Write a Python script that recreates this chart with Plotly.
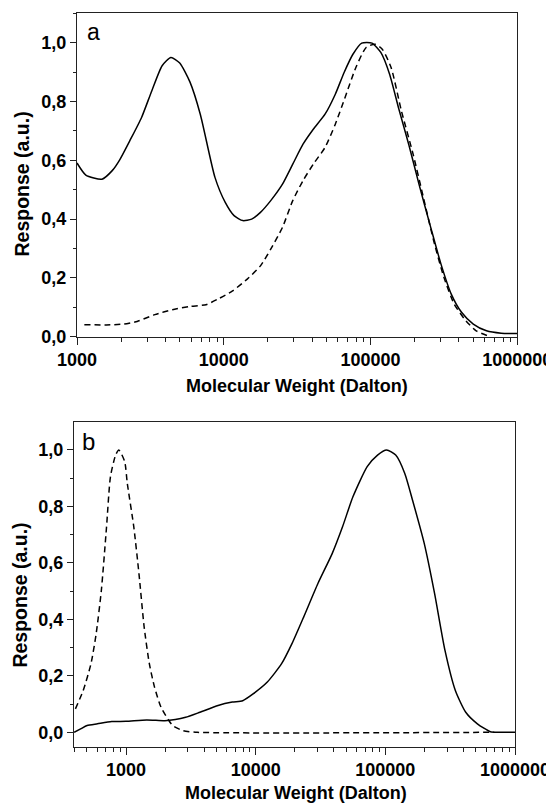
import numpy as np
import plotly.graph_objects as go

# panel a: log10 of molecular weight and normalised response
a_solid_logmw = [3.0, 3.06, 3.17, 3.24, 3.29, 3.36, 3.44, 3.51, 3.58, 3.64, 3.70, 3.77,
                 3.84, 3.94, 4.01, 4.07, 4.13, 4.19, 4.25, 4.32, 4.40, 4.47, 4.54, 4.61,
                 4.69, 4.76, 4.82, 4.88, 4.94, 5.01, 5.07, 5.13, 5.19, 5.26, 5.33, 5.41,
                 5.48, 5.55, 5.62, 5.70, 5.79, 5.89, 6.0]
a_solid_resp = [0.591, 0.550, 0.536, 0.565, 0.601, 0.667, 0.746, 0.837, 0.922, 0.950, 0.931, 0.866,
                0.757, 0.542, 0.457, 0.412, 0.395, 0.400, 0.423, 0.463, 0.519, 0.587, 0.655, 0.706,
                0.757, 0.825, 0.899, 0.961, 0.999, 0.999, 0.967, 0.893, 0.780, 0.655, 0.519, 0.372,
                0.247, 0.145, 0.083, 0.043, 0.020, 0.012, 0.011]
a_dash_logmw = [3.05, 3.20, 3.32, 3.41, 3.53, 3.65, 3.77, 3.88, 3.96, 4.06, 4.16, 4.25,
                4.32, 4.40, 4.47, 4.54, 4.61, 4.69, 4.76, 4.83, 4.90, 4.97, 5.03, 5.08,
                5.14, 5.21, 5.29, 5.36, 5.43, 5.50, 5.57, 5.65, 5.72, 5.80]
a_dash_resp = [0.041, 0.040, 0.043, 0.052, 0.075, 0.092, 0.103, 0.109, 0.128, 0.156, 0.196, 0.241,
               0.298, 0.372, 0.463, 0.531, 0.587, 0.644, 0.723, 0.819, 0.916, 0.984, 0.995, 0.978,
               0.916, 0.769, 0.621, 0.474, 0.327, 0.202, 0.111, 0.054, 0.020, 0.003]

# panel b
b_solid_logmw = [2.60, 2.65, 2.70, 2.78, 2.89, 3.0, 3.16, 3.30, 3.38, 3.46, 3.57, 3.71,
                 3.82, 3.90, 3.98, 4.09, 4.20, 4.28, 4.37, 4.48, 4.59, 4.67, 4.75, 4.86,
                 4.94, 5.01, 5.08, 5.15, 5.21, 5.30, 5.38, 5.46, 5.54, 5.62, 5.71, 5.81,
                 5.87, 6.0]
b_solid_resp = [0.0, 0.012, 0.024, 0.030, 0.038, 0.039, 0.044, 0.041, 0.045, 0.053, 0.071, 0.095,
                0.107, 0.112, 0.136, 0.178, 0.243, 0.314, 0.408, 0.527, 0.633, 0.728, 0.834, 0.941,
                0.982, 1.0, 0.982, 0.917, 0.822, 0.669, 0.491, 0.290, 0.148, 0.071, 0.030, 0.002,
                0.0, 0.0]
b_dash_logmw = [2.61, 2.67, 2.73, 2.77, 2.81, 2.85, 2.88, 2.92, 2.945, 2.99, 3.01, 3.06,
                3.10, 3.14, 3.18, 3.22, 3.27, 3.36, 3.44, 3.55, 5.84]
b_dash_resp = [0.083, 0.148, 0.243, 0.349, 0.503, 0.728, 0.905, 0.982, 1.0, 0.959, 0.882, 0.728,
               0.562, 0.373, 0.243, 0.160, 0.089, 0.024, 0.006, 0.0, 0.0]

yticks = [0, 0.2, 0.4, 0.6, 0.8, 1.0]
ytext = ["0,0", "0,2", "0,4", "0,6", "0,8", "1,0"]
xticks = [1000, 10000, 100000, 1000000]
xtext = ["1000", "10000", "100000", "1000000"]
xminor = [m * 10 ** d for d in range(2, 6) for m in range(2, 10)]

# the page body keeps its default 8px margin, so the figure starts at (8, 8)
OFF = 8
W, H = 554 - OFF, 806 - OFF
FONT = "Liberation Sans, Arial, sans-serif"


def px(x):
    # page pixel -> paper fraction
    return (x - OFF) / W


def py(y):
    return 1 - (y - OFF) / H


fig = go.Figure()
line = dict(color="black", width=1.5, shape="spline", smoothing=0.6)
dline = dict(color="black", width=1.5, dash="6px,4px", shape="spline", smoothing=0.6)
fig.add_trace(go.Scatter(x=10 ** np.array(a_solid_logmw), y=a_solid_resp, mode="lines", line=line,
                         xaxis="x", yaxis="y"))
fig.add_trace(go.Scatter(x=10 ** np.array(a_dash_logmw), y=a_dash_resp, mode="lines", line=dline,
                         xaxis="x", yaxis="y"))
fig.add_trace(go.Scatter(x=10 ** np.array(b_solid_logmw), y=b_solid_resp, mode="lines", line=line,
                         xaxis="x2", yaxis="y2"))
fig.add_trace(go.Scatter(x=10 ** np.array(b_dash_logmw), y=b_dash_resp, mode="lines", line=dline,
                         xaxis="x2", yaxis="y2"))

AX = "#222"


def xax(rng, dom, anchor):
    return dict(type="log", range=rng, domain=dom, anchor=anchor, automargin=False,
                tickvals=xticks, ticktext=xtext, ticks="outside", ticklen=7, tickwidth=1.3,
                tickcolor=AX,
                minor=dict(ticks="outside", ticklen=4, tickwidth=1.1, tickvals=xminor, tickcolor=AX),
                showline=True, linecolor=AX, linewidth=1.3, mirror=True,
                showgrid=False, zeroline=False,
                tickfont=dict(family=FONT, size=18, color="black", weight="bold"))


def yax(rng, dom, anchor):
    return dict(range=rng, domain=dom, anchor=anchor, automargin=False,
                tickvals=yticks, ticktext=ytext, ticks="outside", ticklen=6, tickwidth=1.3,
                tickcolor=AX,
                minor=dict(ticks="outside", ticklen=3, tickwidth=1.1, dtick=0.1, tickcolor=AX),
                showline=True, linecolor=AX, linewidth=1.3, mirror=True,
                showgrid=False, zeroline=False,
                tickfont=dict(family=FONT, size=18, color="black", weight="bold"))


def label(text, x, y, size, bold=True, angle=0, xanchor="center", yanchor="middle"):
    return dict(text=text, x=px(x), y=py(y), xref="paper", yref="paper", showarrow=False,
                textangle=angle, xanchor=xanchor, yanchor=yanchor,
                font=dict(family=FONT, size=size, color="black",
                          weight="bold" if bold else "normal"))


fig.update_layout(
    width=W, height=H,
    margin=dict(l=0, r=0, t=0, b=0),
    paper_bgcolor="white", plot_bgcolor="white",
    showlegend=False,
    xaxis=xax([3, 6], [px(77), px(517.3)], "y"),
    yaxis=yax([0, 1.103], [py(336.7), py(12.5)], "x"),
    xaxis2=xax([2.599, 6], [px(74), px(515)], "y2"),
    yaxis2=yax([-0.051, 1.098], [py(746.7), py(422.3)], "x2"),
    annotations=[
        label("Molecular Weight (Dalton)", 297, 386, 18),
        label("Response (a.u.)", 22, 184.5, 19.5, angle=-90),
        label("Molecular Weight (Dalton)", 295.5, 793, 18),
        label("Response (a.u.)", 19.6, 595, 19.5, angle=-90),
        label("a", 85, 32, 23, bold=False, xanchor="left"),
        label("b", 79.5, 441.6, 24, bold=False, xanchor="left"),
    ],
)

fig.write_html("out.html")
